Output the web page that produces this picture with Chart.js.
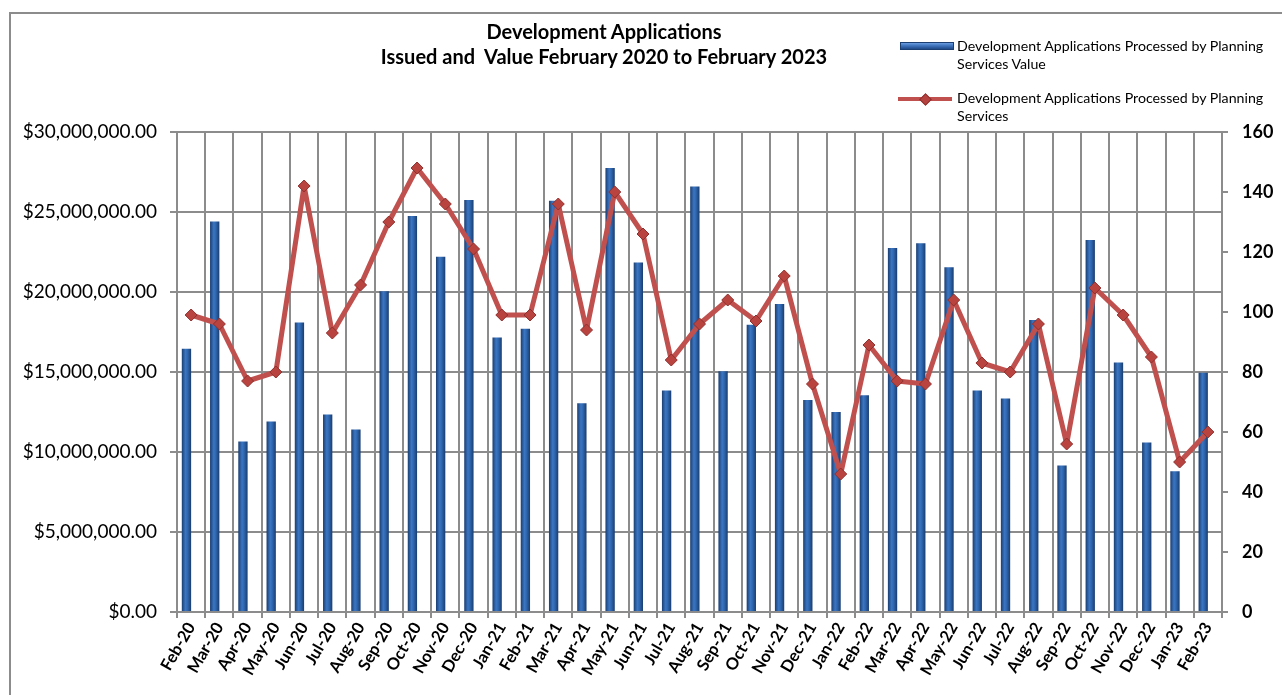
<!DOCTYPE html>
<html>
<head>
<meta charset="utf-8">
<script src="https://cdn.jsdelivr.net/npm/chart.js@4.4.1/dist/chart.umd.min.js"></script>
<style>
	body { margin: 0; background: #fff; font-family: Lato, "Liberation Sans", sans-serif; }
	#wrap { position: relative; width: 1282px; height: 695px; overflow: hidden; }
	#frame { position: absolute; left: 9px; top: 12px; width: 1300px; height: 720px; border: 2px solid #8c8c8c; box-sizing: border-box; }
	#title { position: absolute; left: 0; top: 19px; width: 1208px; text-align: center; font-weight: bold; font-size: 20px; line-height: 25px; color: #000; white-space: pre; }
	.leg { position: absolute; left: 957px; font-size: 14.2px; line-height: 18px; color: #000; }
	.sym-bar { position: absolute; left: 900px; top: 42px; width: 52px; height: 6px; border: 1px solid #1c3f73; background: linear-gradient(#6a9de0, #3a6fb8 50%, #1f4a87); }
	.sym-line { position: absolute; left: 898px; top: 97px; width: 54px; height: 4px; background: #c0504d; }
	.sym-dia { position: absolute; left: 921px; top: 95px; width: 7px; height: 7px; background: #b5423f; border: 1px solid #8f302e; transform: rotate(45deg); }
	canvas { position: absolute; left: 0; top: 0; }
</style>
</head>
<body>
<div id="wrap">
	<div id="frame"></div>
	<canvas id="devChart" width="1282" height="695"></canvas>
	<div id="title">Development Applications
Issued and  Value February 2020 to February 2023</div>
	<div class="sym-bar"></div>
	<div class="leg" id="leg1" style="top:37px"></div>
	<div class="sym-line"></div>
	<div class="sym-dia"></div>
	<div class="leg" id="leg2" style="top:89px"></div>
</div>
<script>
const months = ["Feb-20", "Mar-20", "Apr-20", "May-20", "Jun-20", "Jul-20", "Aug-20", "Sep-20", "Oct-20", "Nov-20", "Dec-20",
	"Jan-21", "Feb-21", "Mar-21", "Apr-21", "May-21", "Jun-21", "Jul-21", "Aug-21", "Sep-21", "Oct-21", "Nov-21", "Dec-21",
	"Jan-22", "Feb-22", "Mar-22", "Apr-22", "May-22", "Jun-22", "Jul-22", "Aug-22", "Sep-22", "Oct-22", "Nov-22", "Dec-22",
	"Jan-23", "Feb-23"];

// value of applications processed ($)
const appValues = [16450000, 24400000, 10650000, 11900000, 18100000, 12350000, 11400000, 20050000, 24750000, 22200000, 25750000,
	17150000, 17700000, 25700000, 13050000, 27750000, 21850000, 13850000, 26600000, 15050000, 17950000, 19250000, 13250000,
	12500000, 13550000, 22750000, 23050000, 21550000, 13850000, 13350000, 18250000, 9150000, 23250000, 15600000, 10600000,
	8800000, 14950000];

// number of applications processed
const appCounts = [99, 96, 77, 80, 142, 93, 109, 130, 148, 136, 121,
	99, 99, 136, 94, 140, 126, 84, 96, 104, 97, 112, 76,
	46, 89, 77, 76, 104, 83, 80, 96, 56, 108, 99, 85,
	50, 60];

const valueLabel = "Development Applications Processed by Planning Services Value";
const countLabel = "Development Applications Processed by Planning Services";

document.getElementById('leg1').innerHTML = 'Development Applications Processed by Planning<br>Services Value';
document.getElementById('leg2').innerHTML = 'Development Applications Processed by Planning<br>Services';

const gridGray = '#8c8c8c';
const axisFont = 'Lato, "Liberation Sans", sans-serif';
const catPct = 0.66;

function barFill(context) {
	const chart = context.chart;
	const xs = chart.scales && chart.scales.x;
	if (!chart.chartArea || context.type !== 'data' || !xs) return '#2c5fa3';
	const step = xs.width / months.length;
	const x = xs.getPixelForValue(context.dataIndex) - step * catPct / 4;
	if (!isFinite(x)) return '#2c5fa3';
	const half = step * catPct / 4;
	const g = chart.ctx.createLinearGradient(x - half, 0, x + half, 0);
	g.addColorStop(0, '#1b3e72');
	g.addColorStop(0.4, '#3b76c2');
	g.addColorStop(0.6, '#3069b2');
	g.addColorStop(1, '#1a3c6e');
	return g;
}

new Chart(document.getElementById('devChart'), {
	data: {
		labels: months,
		datasets: [
			{
				type: 'line',
				label: countLabel,
				data: appCounts,
				yAxisID: 'y1',
				borderColor: '#c0504d',
				borderWidth: 5,
				borderJoinStyle: 'round',
				backgroundColor: '#b8433f',
				pointStyle: 'rectRot',
				pointRadius: 6,
				pointBorderColor: '#8f302e',
				pointBorderWidth: 1,
				tension: 0,
				order: 0
			},
			{
				type: 'bar',
				label: valueLabel,
				data: appValues,
				yAxisID: 'y',
				backgroundColor: barFill,
				borderWidth: 0,
				barPercentage: 1,
				categoryPercentage: catPct,
				order: 1
			},
			{
				// empty slot so the value bars sit left of centre, as in the original
				type: 'bar',
				label: '',
				data: months.map(() => null),
				yAxisID: 'y',
				barPercentage: 1,
				categoryPercentage: catPct,
				order: 2
			}
		]
	},
	options: {
		responsive: false,
		animation: false,
		layout: { padding: { top: 132, left: 0, right: 0, bottom: 0 } },
		plugins: {
			legend: { display: false },
			title: { display: false },
			tooltip: { enabled: false }
		},
		scales: {
			x: {
				grid: { color: gridGray, lineWidth: 2, offset: true, tickLength: 6 },
				border: { color: gridGray, width: 2 },
				ticks: {
					autoSkip: false,
					minRotation: 60,
					maxRotation: 60,
					padding: 1,
					color: '#000',
					font: { family: axisFont, size: 16.5, weight: 'bold' }
				},
				afterFit: (scale) => { scale.height = 83; }
			},
			y: {
				position: 'left',
				min: 0,
				max: 30000000,
				grid: { color: gridGray, lineWidth: 2, tickLength: 7 },
				border: { color: gridGray, width: 2 },
				ticks: {
					stepSize: 5000000,
					padding: 13,
					color: '#000',
					font: { family: axisFont, size: 19 },
					callback: (v) => '$' + Number(v).toLocaleString('en-US', { minimumFractionDigits: 2, maximumFractionDigits: 2 })
				},
				afterFit: (scale) => { scale.width = 177; }
			},
			y1: {
				position: 'right',
				min: 0,
				max: 160,
				grid: { drawOnChartArea: false, color: gridGray, lineWidth: 2, tickLength: 6 },
				border: { color: gridGray, width: 2 },
				ticks: {
					stepSize: 20,
					padding: 14,
					color: '#000',
					font: { family: axisFont, size: 18, weight: 'bold' }
				},
				afterFit: (scale) => { scale.width = 60; }
			}
		}
	}
});
</script>
</body>
</html>
